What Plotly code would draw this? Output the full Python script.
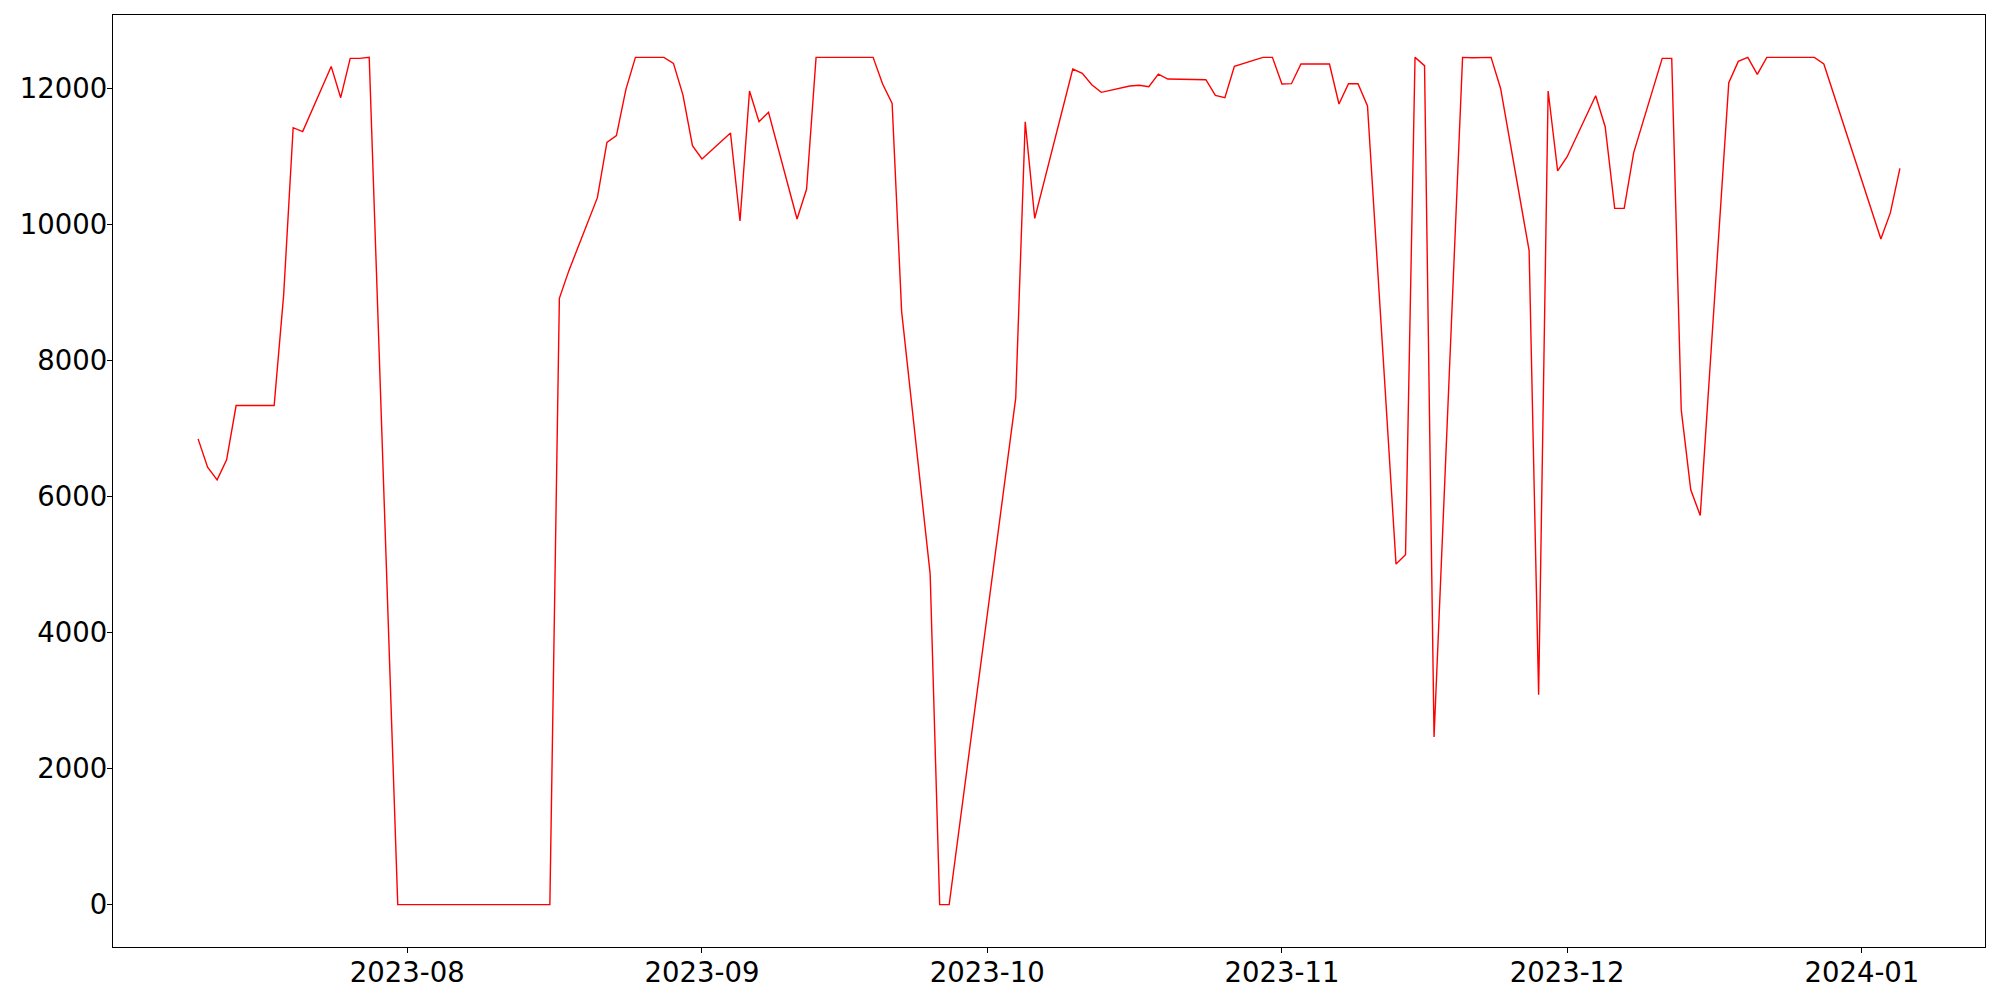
import plotly.graph_objects as go
import pandas as pd

dates = [
    "2023-07-10", "2023-07-11", "2023-07-12", "2023-07-13", "2023-07-14", "2023-07-18",
    "2023-07-19", "2023-07-20", "2023-07-21", "2023-07-24", "2023-07-25", "2023-07-26",
    "2023-07-27", "2023-07-28", "2023-07-31", "2023-08-16", "2023-08-17", "2023-08-18",
    "2023-08-21", "2023-08-22", "2023-08-23", "2023-08-24", "2023-08-25", "2023-08-28",
    "2023-08-29", "2023-08-30", "2023-08-31", "2023-09-01", "2023-09-04", "2023-09-05",
    "2023-09-06", "2023-09-07", "2023-09-08", "2023-09-11", "2023-09-12", "2023-09-13",
    "2023-09-19", "2023-09-20", "2023-09-21", "2023-09-22", "2023-09-25", "2023-09-26",
    "2023-09-27", "2023-10-04", "2023-10-05", "2023-10-06", "2023-10-10", "2023-10-11",
    "2023-10-12", "2023-10-13", "2023-10-16", "2023-10-17", "2023-10-18", "2023-10-19",
    "2023-10-20", "2023-10-24", "2023-10-25", "2023-10-26", "2023-10-27", "2023-10-30",
    "2023-10-31", "2023-11-01", "2023-11-02", "2023-11-03", "2023-11-06", "2023-11-07",
    "2023-11-08", "2023-11-09", "2023-11-10", "2023-11-13", "2023-11-14", "2023-11-15",
    "2023-11-16", "2023-11-17", "2023-11-20", "2023-11-21", "2023-11-23", "2023-11-24",
    "2023-11-27", "2023-11-28", "2023-11-29", "2023-11-30", "2023-12-01", "2023-12-04",
    "2023-12-05", "2023-12-06", "2023-12-07", "2023-12-08", "2023-12-11", "2023-12-12",
    "2023-12-13", "2023-12-14", "2023-12-15", "2023-12-18", "2023-12-19", "2023-12-20",
    "2023-12-21", "2023-12-22", "2023-12-27", "2023-12-28", "2024-01-03", "2024-01-04",
    "2024-01-05",
]

values = [
    6847, 6431, 6245, 6538, 7337, 7337,
    8963, 11421, 11363, 12322, 11862, 12440,
    12440, 12455, 0, 0, 8914, 9320,
    10393, 11206, 11304, 11985, 12455, 12455,
    12367, 11901, 11157, 10961, 11343, 10050,
    11960, 11509, 11647, 10079, 10516, 12455,
    12455, 12063, 11779, 8718, 4859, 0,
    0, 7445, 11509, 10089, 12283, 12219,
    12053, 11941, 12034, 12044, 12024, 12210,
    12136, 12126, 11896, 11862, 12322, 12455,
    12455, 12063, 12068, 12357, 12357, 11769,
    12068, 12068, 11740, 5006, 5143, 12455,
    12333, 2464, 12455, 12450, 12455, 11998,
    9614, 3085, 11960, 10785, 10995, 11891,
    11436, 10235, 10235, 11054, 12440, 12440,
    7273, 6098, 5720, 12083, 12396, 12455,
    12205, 12455, 12455, 12357, 9786, 10172,
    10824,
]

y_ticks = [0, 2000, 4000, 6000, 8000, 10000, 12000]

x = pd.to_datetime(dates)
# matplotlib-like 5% margins
xspan = x.max() - x.min()
xrange_ = [x.min() - 0.05 * xspan, x.max() + 0.05 * xspan]
vmin, vmax = min(values), max(values)
yspan = vmax - vmin
yrange_ = [vmin - 0.05 * yspan, vmax + 0.05 * yspan]

fig = go.Figure()
fig.add_trace(go.Scatter(
    x=x, y=values, mode="lines",
    line=dict(color="#ff0000", width=1.4),
    hoverinfo="x+y", showlegend=False,
))

font = dict(family="DejaVu Sans", size=27.5, color="black")

# the page body has an 8px margin; size/margins compensate for it
fig.update_layout(
    width=1984, height=984,
    margin=dict(l=105, r=7, t=7, b=45, autoexpand=False),
    paper_bgcolor="white", plot_bgcolor="white",
    font=font,
    xaxis=dict(
        range=xrange_, type="date",
        tick0="2023-08-01", dtick="M1", tickformat="%Y-%m",
        showgrid=False, zeroline=False,
        showline=True, linecolor="black", linewidth=1.3, mirror=True,
        ticks="outside", ticklen=5, tickwidth=1.1, tickcolor="black",
        tickfont=font, automargin=False, ticklabelstandoff=-4,
    ),
    yaxis=dict(
        range=yrange_,
        tickvals=y_ticks, ticktext=[str(v) for v in y_ticks],
        showgrid=False, zeroline=False,
        showline=True, linecolor="black", linewidth=1.3, mirror=True,
        ticks="outside", ticklen=5, tickwidth=1.1, tickcolor="black",
        tickfont=font, automargin=False, ticklabelstandoff=-6,
    ),
)

fig.write_html("out.html")
